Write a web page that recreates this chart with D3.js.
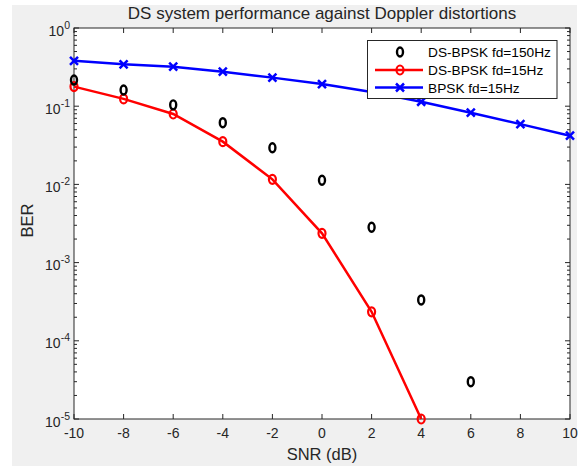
<!DOCTYPE html>
<html><head><meta charset="utf-8">
<script src="https://d3js.org/d3.v7.min.js"></script>
<style>body{margin:0;background:#fff;} svg{display:block;} text{font-family:"Liberation Sans",Arial,sans-serif;}</style>
</head><body>
<script>
const snr = [-10,-8,-6,-4,-2,0,2,4,6,8,10];
const berDS150 = [0.216,0.161,0.104,0.0615,0.0294,0.0113,0.00283,0.000333,0.00003];
const berDS15 = [0.178,0.124,0.0795,0.0352,0.0116,0.00237,0.000235,0.00001];
const berBPSK15 = [0.38,0.343,0.32,0.276,0.232,0.192,0.152,0.114,0.0826,0.059,0.042];
const xTicks = [-10,-8,-6,-4,-2,0,2,4,6,8,10];
const yExps = [0,-1,-2,-3,-4,-5];
const legendLabels = ["DS-BPSK fd=150Hz","DS-BPSK fd=15Hz","BPSK fd=15Hz"];

const W=587,H=466;
const L=74,R=570,T=28,B=419;
const svg=d3.select("body").append("svg").attr("width",W).attr("height",H);
svg.append("rect").attr("x",12).attr("y",5).attr("width",565).attr("height",461).attr("fill","#f0f0f0");
const x=d3.scaleLinear().domain([-10,10]).range([L,R]);
const y=d3.scaleLog().domain([1e-5,1]).range([B,T]);
svg.append("rect").attr("x",L).attr("y",T).attr("width",R-L).attr("height",B-T).attr("fill","#fff");

const axCol="#262626";
const g=svg.append("g");
// x ticks
xTicks.forEach(v=>{
  g.append("line").attr("x1",x(v)).attr("x2",x(v)).attr("y1",B).attr("y2",B-5).attr("stroke",axCol);
  g.append("line").attr("x1",x(v)).attr("x2",x(v)).attr("y1",T).attr("y2",T+5).attr("stroke",axCol);
  g.append("text").attr("x",x(v)).attr("y",B+19).attr("text-anchor","middle").attr("font-size",14).attr("fill",axCol).text(v);
});
// y ticks
yExps.forEach(e=>{
  const yy=y(Math.pow(10,e));
  [[L,1],[R,-1]].forEach(([xx,d])=>{
    g.append("line").attr("x1",xx).attr("x2",xx+d*5).attr("y1",yy).attr("y2",yy).attr("stroke",axCol);
  });
  const t=g.append("text").attr("x",L-4).attr("y",yy+7.5).attr("text-anchor","end").attr("font-size",14).attr("fill",axCol);
  t.append("tspan").text("10");
  t.append("tspan").attr("dy",-7).attr("font-size",10.5).text(e);
  if(e>-5){
    for(let m=2;m<=9;m++){
      const my=y(m*Math.pow(10,e-1));
      [[L,1],[R,-1]].forEach(([xx,d])=>{
        g.append("line").attr("x1",xx).attr("x2",xx+d*3).attr("y1",my).attr("y2",my).attr("stroke",axCol);
      });
    }
  }
});
g.append("rect").attr("x",L).attr("y",T).attr("width",R-L).attr("height",B-T).attr("fill","none").attr("stroke",axCol);

// labels
svg.append("text").attr("x",(L+R)/2).attr("y",19).attr("text-anchor","middle").attr("font-size",17).attr("fill",axCol).text("DS system performance against Doppler distortions");
svg.append("text").attr("x",(L+R)/2).attr("y",460).attr("text-anchor","middle").attr("font-size",16.5).attr("fill",axCol).text("SNR (dB)");
svg.append("text").attr("transform",`translate(33,220.5) rotate(-90)`).attr("text-anchor","middle").attr("font-size",16.5).attr("fill",axCol).text("BER");

const plot=svg.append("g");
const line=d3.line().x(d=>x(d[0])).y(d=>y(d[1]));
const blue=berBPSK15.map((v,i)=>[snr[i],v]);
const red=berDS15.map((v,i)=>[snr[i],v]);
const black=berDS150.map((v,i)=>[snr[i],v]);
plot.append("path").attr("d",line(blue)).attr("fill","none").attr("stroke","#0000ff").attr("stroke-width",2.5);
plot.append("path").attr("d",line(red)).attr("fill","none").attr("stroke","#ff0000").attr("stroke-width",2.5);
function xMark(sel,cx,cy,c){
  sel.append("path").attr("d",`M${cx-4},${cy-4}L${cx+4},${cy+4}M${cx-4},${cy+4}L${cx+4},${cy-4}`).attr("stroke",c).attr("stroke-width",2.5);
}
blue.forEach(d=>xMark(plot,x(d[0]),y(d[1]),"#0000ff"));
red.forEach(d=>plot.append("ellipse").attr("cx",x(d[0])).attr("cy",y(d[1])).attr("rx",3.5).attr("ry",4.5).attr("fill","none").attr("stroke","#ff0000").attr("stroke-width",2.2));
black.forEach(d=>plot.append("ellipse").attr("cx",x(d[0])).attr("cy",y(d[1])).attr("rx",3).attr("ry",4.5).attr("fill","none").attr("stroke","#000").attr("stroke-width",2.4));

// legend
const lg=svg.append("g");
lg.append("rect").attr("x",367.5).attr("y",40.5).attr("width",189.5).attr("height",58).attr("fill","#fff").attr("stroke","#262626");
const ly=[52,70,87.5];
const lx1=375,lx2=423,lm=400;
lg.append("ellipse").attr("cx",lm).attr("cy",ly[0]).attr("rx",3).attr("ry",4.5).attr("fill","none").attr("stroke","#000").attr("stroke-width",2.4);
lg.append("line").attr("x1",lx1).attr("x2",lx2).attr("y1",ly[1]).attr("y2",ly[1]).attr("stroke","#ff0000").attr("stroke-width",2.5);
lg.append("ellipse").attr("cx",lm).attr("cy",ly[1]).attr("rx",3.5).attr("ry",4.5).attr("fill","none").attr("stroke","#ff0000").attr("stroke-width",2.2);
lg.append("line").attr("x1",lx1).attr("x2",lx2).attr("y1",ly[2]).attr("y2",ly[2]).attr("stroke","#0000ff").attr("stroke-width",2.5);
xMark(lg,lm,ly[2],"#0000ff");
legendLabels.forEach((t,i)=>lg.append("text").attr("x",428).attr("y",ly[i]+5).attr("font-size",13.7).attr("fill","#000").text(t));
</script>
</body></html>
